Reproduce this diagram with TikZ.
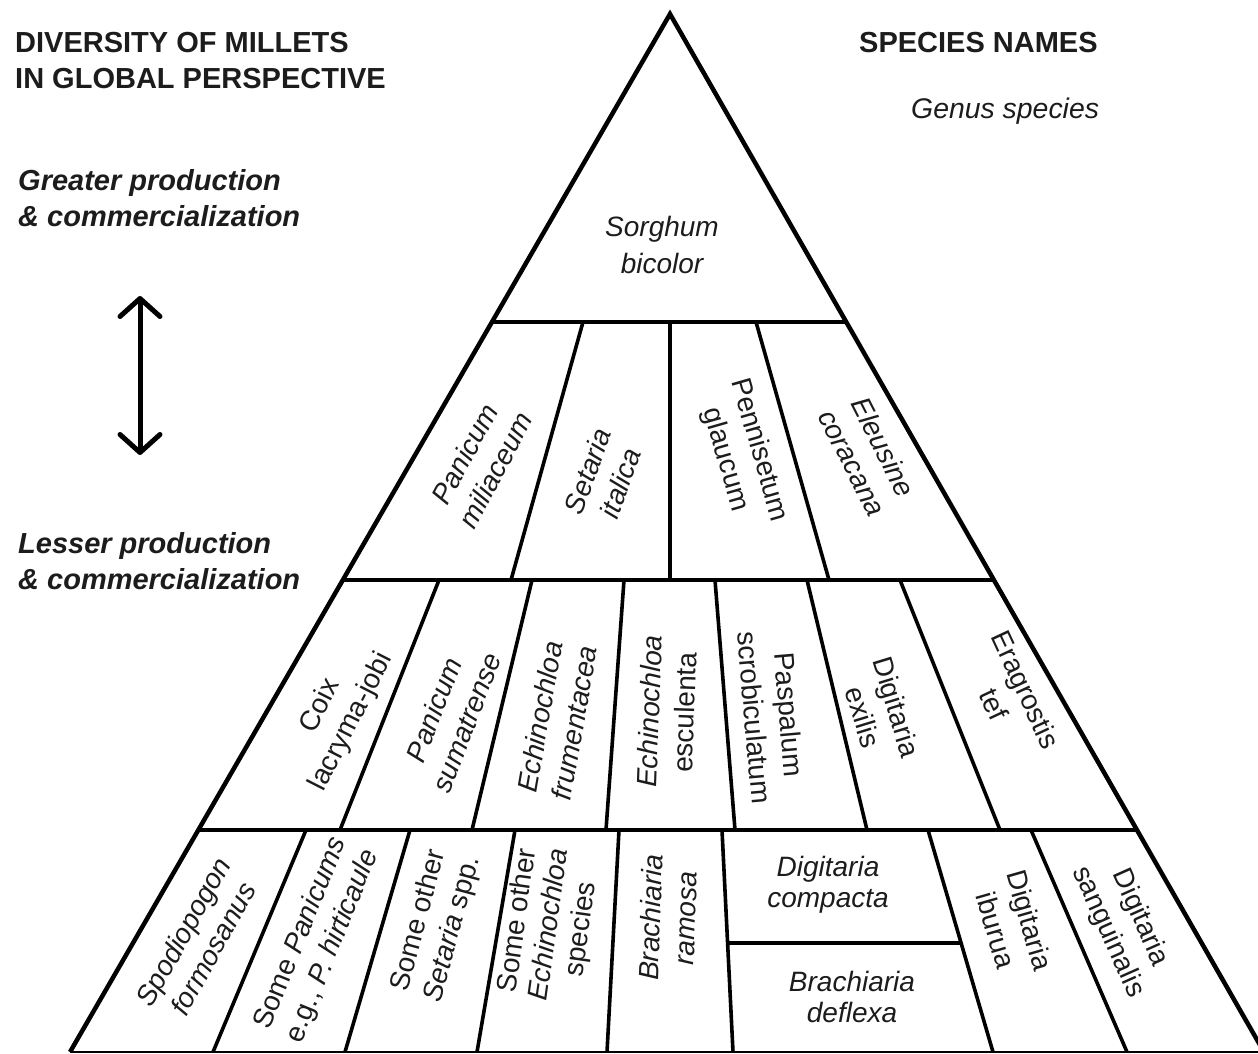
\documentclass[tikz,border=0pt]{standalone}
\usepackage{fontspec}
\setmainfont{Liberation Sans}
\usetikzlibrary{arrows.meta,calc}
\definecolor{txt}{HTML}{1C1C1C}
\begin{document}
\begin{tikzpicture}[x=1pt,y=-1pt,
  edge/.style={line width=4.5pt,line join=miter},
  divider/.style={line width=3.6pt},
  baseline/.style={line width=2pt},
  lab/.style={font=\fontsize{28}{35}\selectfont\itshape,align=center,text=txt,inner sep=0pt},
  labr/.style={font=\fontsize{28}{35}\selectfont,align=center,text=txt,inner sep=0pt},
  head/.style={font=\fontsize{29}{36}\selectfont\bfseries,text=txt,inner sep=0pt,anchor=base west},
  headit/.style={font=\fontsize{29}{36}\selectfont\bfseries\itshape,text=txt,inner sep=0pt,anchor=base west}]
\useasboundingbox (0,0) rectangle (1258,1054);
\begin{scope}
\clip (0,0) rectangle (1258,1054);
% triangle
\coordinate (A) at (670,14);
\coordinate (L) at (70,1052);
\coordinate (R) at (1264,1052);
% tier lines
\coordinate (l1) at (492,322); \coordinate (r1) at (846,322);
\coordinate (l2) at (343,580); \coordinate (r2) at (994,580);
\coordinate (l3) at (198,830); \coordinate (r3) at (1137,830);
\draw[baseline] (L) -- (R);
\draw[divider] (l1) -- (r1);
\draw[divider] (l2) -- (r2);
\draw[divider] (l3) -- (r3);
% tier 2 dividers
\draw[divider] (583,322) -- (511,580);
\draw[divider] (670,322) -- (670,580);
\draw[divider] (756,322) -- (829,580);
% tier 3 dividers
\draw[divider] (439,580) -- (340,830);
\draw[divider] (532,580) -- (472,830);
\draw[divider] (624,580) -- (606,830);
\draw[divider] (715,580) -- (735,830);
\draw[divider] (807,580) -- (867,830);
\draw[divider] (900,580) -- (1000,830);
% tier 4 dividers
\draw[divider] (306,830) -- (213,1052);
\draw[divider] (410,830) -- (345,1052);
\draw[divider] (515,830) -- (477,1052);
\draw[divider] (619,830) -- (607,1052);
\draw[divider] (722,830) -- (733,1052);
\draw[divider] (928,830) -- (993,1052);
\draw[divider] (1031,830) -- (1127,1052);
\draw[divider] (727,943) -- (961,943);
% outer edges
\draw[edge] (L) -- (A) -- (R);
\end{scope}

% headings
\node[head] (h1) at (15,53) {DIVERSITY OF MILLETS};
\node[head] (h2) at (15,89) {IN GLOBAL PERSPECTIVE};
\node[head] (h3) at (859,53) {SPECIES NAMES};
\node[labr,anchor=base west,font=\fontsize{28.4}{32}\selectfont\itshape] (h4) at (911,119) {Genus species};
\node[headit] (g1) at (18,190) {Greater production};
\node[headit] (g2) at (18,226) {\& commercialization};
\node[headit] (s1) at (18,553) {Lesser production};
\node[headit] (s2) at (18,589) {\& commercialization};
% arrow
\coordinate (atop) at (140,296);
\coordinate (abot) at (140,455);
\draw[line width=5pt,{Straight Barb[length=18pt,width=40pt,round]}-{Straight Barb[length=18pt,width=40pt,round]}] (atop) -- (abot);

% labels
\node[lab,font=\fontsize{28}{37}\selectfont\itshape] (sorghum) at (662,245) {Sorghum\\bicolor};
% tier 2
\node[lab,rotate=62] (pmil) at (480,462) {Panicum\\miliaceum};
\node[lab,rotate=70] (sita) at (604,477) {Setaria\\italica};
\node[labr,rotate=-74] (pgla) at (742,455) {Pennisetum\\glaucum};
\node[lab,rotate=-63] (ecor) at (868,455) {Eleusine\\coracana};
% tier 3
\node[labr,rotate=63] (coix) at (336,714) {Coix\\lacryma-jobi};
\node[lab,rotate=69] (psum) at (450,716) {Panicum\\sumatrense};
\node[lab,rotate=80] (efru) at (557,720) {Echinochloa\\frumentacea};
\node[labr,rotate=88] (eesc) at (667,712) {\textit{Echinochloa}\\esculenta};
\node[labr,rotate=-85] (pscr) at (772,716) {Paspalum\\scrobiculatum};
\node[labr,rotate=-73] (dexi) at (880,712) {Digitaria\\exilis};
\node[labr,rotate=-65] (etef) at (1010,697) {Eragrostis\\tef};
% tier 4
\node[lab,rotate=61,font=\fontsize{28}{34}\selectfont\itshape] (spod) at (198,940) {Spodiopogon\\formosanus};
\node[labr,rotate=68,font=\fontsize{28}{34}\selectfont] (span) at (317,940) {Some \textit{Panicums}\\e.g., \textit{P. hirticaule}};
\node[labr,rotate=75] (sset) at (436,925) {Some other\\\textit{Setaria} spp.};
\node[labr,rotate=82,font=\fontsize{28}{32}\selectfont] (sech) at (550,925) {Some other\\\textit{Echinochloa}\\species};
\node[lab,rotate=88] (bram) at (668,918) {Brachiaria\\ramosa};
\node[lab,font=\fontsize{28}{31}\selectfont\itshape] (dcom) at (828,885) {Digitaria\\compacta};
\node[lab,font=\fontsize{28}{31}\selectfont\itshape] (bdef) at (852,997) {Brachiaria\\deflexa};
\node[labr,rotate=-74] (dibu) at (1013,925) {Digitaria\\iburua};
\node[labr,rotate=-66] (dsan) at (1124,925) {Digitaria\\sanguinalis};
\end{tikzpicture}
\end{document}
